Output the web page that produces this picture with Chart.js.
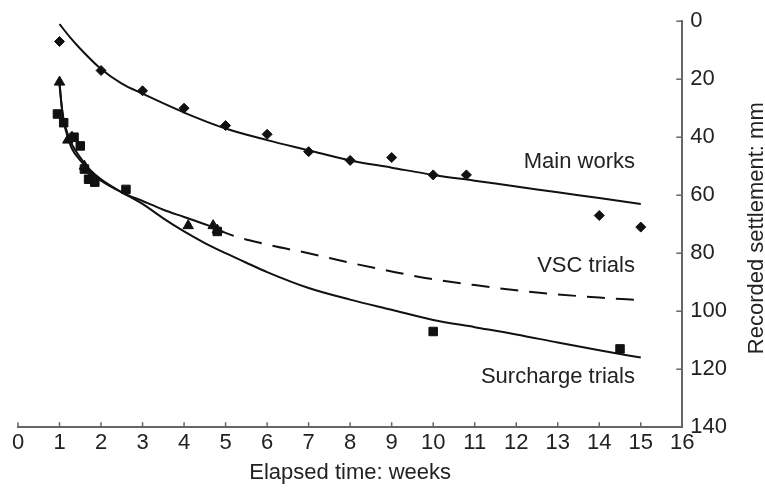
<!DOCTYPE html>
<html>
<head>
<meta charset="utf-8">
<script src="https://cdn.jsdelivr.net/npm/chart.js@4"></script>
<style>
  html, body { margin: 0; padding: 0; background: #fff; }
  #wrap { width: 765px; height: 489px; }
</style>
</head>
<body>
<div id="wrap"><canvas id="myChart"></canvas></div>
<script>
// measured points (weeks, mm)
let mainX = [1, 2, 3, 4, 5, 6, 7, 8, 9, 10, 10.8, 14, 15];
let mainY = [7, 17, 24, 30, 36, 39, 45, 48, 47, 53, 53, 67, 71];

let vscX = [1, 1.2, 1.3, 1.6, 1.75, 4.1, 4.7, 4.8];
let vscY = [21, 41, 40, 50, 53.5, 70.5, 70.5, 72];

let surX = [0.95, 1.1, 1.35, 1.5, 1.6, 1.7, 1.85, 2.6, 4.8, 10, 14.5];
let surY = [32, 35, 40, 43, 51, 54.5, 55.5, 58, 72.5, 107, 113];

// fitted curves
let mainFitX = [1, 1.25, 1.5, 2, 2.5, 3, 4, 5, 6, 7, 8, 9, 10, 11, 12, 13, 14, 15];
let mainFitY = [1, 5.5, 9.5, 16.5, 21.5, 25, 31.5, 37, 41, 44.5, 48, 50.5, 53, 55, 57, 59, 61, 63];

let vscFitX = [1, 1.05, 1.1, 1.2, 1.3, 1.5, 1.75, 2, 2.5, 3, 3.5, 4, 4.5, 4.8];
let vscFitY = [21, 29, 34.5, 40, 44, 48, 52, 55, 59, 62, 65, 67.5, 70, 71.5];
let vscDashX = [4.8, 5, 6, 7, 8, 9, 10, 11, 12, 13, 14, 15];
let vscDashY = [71.5, 73, 77, 80, 83.3, 86.3, 89, 91, 92.8, 94.2, 95.3, 96.2];

let surFitX = [1, 1.05, 1.1, 1.2, 1.3, 1.5, 1.75, 2, 2.5, 3, 3.5, 4, 4.5, 5, 5.5, 6, 7, 8, 9, 10, 11, 12, 13, 14, 15];
let surFitY = [22, 29, 34, 39, 42.5, 47, 51.5, 54.5, 59, 63, 68, 72.5, 76.5, 80, 83.3, 86.5, 92, 96, 99.5, 103, 105.5, 108, 110.8, 113.5, 116];

let curveNames = ["Main works", "VSC trials", "Surcharge trials"];
let nameAt = [48.6, 84.5, 122.8]; // settlement value where each name sits
let yTitle = "Recorded settlement: mm";

let ink = "#111";
let axisColor = "#666";
let textColor = "#222";
let fontFamily = '"Liberation Sans", Arial, sans-serif';

let pts = (xs, ys) => xs.map((x, i) => ({ x: x, y: ys[i] }));

let fitLine = (xs, ys, dash) => ({
  data: pts(xs, ys),
  showLine: true,
  borderColor: ink,
  borderWidth: 2,
  borderDash: dash || [],
  pointRadius: 0,
  cubicInterpolationMode: "monotone",
});

let markers = (xs, ys, style, r) => ({
  data: pts(xs, ys),
  pointStyle: style,
  pointRadius: r,
  backgroundColor: ink,
  borderColor: ink,
  borderWidth: 1,
});

Chart.defaults.font.family = fontFamily;
Chart.defaults.font.size = 22;
Chart.defaults.color = textColor;

// inward tick marks, curve names, and the right title (reads bottom to top)
let extras = {
  id: "extras",
  afterDraw: (chart) => {
    let c = chart.ctx;
    let x = chart.scales.x;
    let y = chart.scales.y;
    let area = chart.chartArea;
    c.save();
    c.strokeStyle = axisColor;
    c.lineWidth = 1.5;
    x.ticks.forEach((t) => {
      let px = x.getPixelForValue(t.value);
      c.beginPath();
      c.moveTo(px, area.bottom);
      c.lineTo(px, area.bottom - 5);
      c.stroke();
    });
    y.ticks.forEach((t) => {
      let py = y.getPixelForValue(t.value);
      c.beginPath();
      c.moveTo(area.right, py);
      c.lineTo(area.right - 6, py);
      c.stroke();
    });
    c.fillStyle = textColor;
    c.font = "22px " + fontFamily;
    c.textAlign = "right";
    c.textBaseline = "middle";
    curveNames.forEach((name, i) => {
      c.fillText(name, x.getPixelForValue(14.86), y.getPixelForValue(nameAt[i]));
    });
    c.translate(chart.width - 8, (area.top + area.bottom) / 2 + 4);
    c.rotate(-Math.PI / 2);
    c.textAlign = "center";
    c.fillText(yTitle, 0, 0);
    c.restore();
  },
};

let ctx = document.getElementById("myChart").getContext("2d");
let myChart = new Chart(ctx, {
  type: "scatter",
  data: {
    datasets: [
      fitLine(mainFitX, mainFitY),
      fitLine(vscFitX, vscFitY),
      fitLine(vscDashX, vscDashY, [18, 11]),
      fitLine(surFitX, surFitY),
      markers(mainX, mainY, "rectRot", 5),
      markers(vscX, vscY, "triangle", 6),
      markers(surX, surY, "rect", 6),
    ],
  },
  plugins: [extras],
  options: {
    responsive: true,
    maintainAspectRatio: false,
    animation: false,
    layout: { padding: { top: 0, left: 18, right: 30, bottom: 3 } },
    plugins: {
      legend: { display: false },
      tooltip: { enabled: false },
    },
    scales: {
      x: {
        type: "linear",
        min: 0,
        max: 16,
        ticks: { stepSize: 1, padding: 3, maxRotation: 0, autoSkip: false },
        grid: { display: false, drawTicks: false },
        border: { display: true, color: axisColor, width: 2 },
        title: { display: true, text: "Elapsed time: weeks", padding: { top: 0, bottom: 0 } },
      },
      y: {
        type: "linear",
        position: "right",
        reverse: true,
        min: 0,
        max: 140,
        ticks: { stepSize: 20, padding: 8 },
        grid: { display: false, drawTicks: false },
        border: { display: true, color: axisColor, width: 2 },
      },
    },
  },
});
</script>
</body>
</html>
